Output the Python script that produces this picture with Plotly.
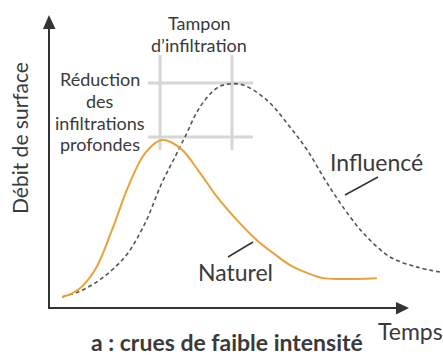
import plotly.graph_objects as go

# Hydrograph: surface discharge over time, natural vs influenced regime
time_naturel = [3.7, 8.1, 12.9, 17.7, 22.2, 27.0, 31.7, 36.8, 42.4, 47.2, 52.8,
                58.4, 62.9, 67.7, 72.5, 77.0, 81.7, 92.1]
debit_naturel = [3.8, 6.2, 13.1, 26.9, 41.7, 53.4, 57.9, 55.2, 46.6, 38.3, 30.3,
                 23.4, 19.0, 14.8, 12.1, 10.3, 10.0, 10.3]

time_influence = [3.7, 8.1, 12.9, 17.7, 22.2, 27.0, 31.7, 35.4, 38.2, 42.4, 47.2, 50.3,
                  54.5, 61.2, 67.7, 72.5, 78.1, 84.6, 89.3, 95.8, 103.4, 109.8]
debit_influence = [3.8, 5.5, 8.6, 13.1, 19.0, 29.3, 43.1, 52.1, 59.0, 69.3, 75.9, 77.2,
                   76.9, 71.7, 62.4, 54.5, 43.1, 31.4, 24.5, 17.6, 14.1, 12.4]

# Reference marks: peak times and peak discharges
peak_times = [31.2, 51.4]
peak_debits = [59.0, 77.6]

W, H = 443, 356
X0, Y0 = 49, 308          # axis origin in pixels
SX, SY = 3.56, 2.9        # pixels per data unit

x_range = [(0 - X0) / SX, (W - X0) / SX]
y_range = [(Y0 - H) / SY, (Y0 - 0) / SY]

TXT = "#3a3a3a"
FONT = "Lato"

fig = go.Figure()

# light grey reference cross-lines
grid_col = "#d6d6d6"
for t in peak_times:
    fig.add_shape(type="line", xref="x", yref="y", x0=t, x1=t, y0=54.5, y1=87.2,
                  line=dict(color=grid_col, width=3), layer="below")
for q in peak_debits:
    fig.add_shape(type="line", xref="x", yref="y", x0=27.8, x1=57.3, y0=q, y1=q,
                  line=dict(color=grid_col, width=3), layer="below")

fig.add_trace(go.Scatter(x=time_influence, y=debit_influence, mode="lines",
                         line=dict(color="#555555", width=1.6, dash="4px,3px", shape="spline"),
                         hoverinfo="skip"))
fig.add_trace(go.Scatter(x=time_naturel, y=debit_naturel, mode="lines",
                         line=dict(color="#E9A23B", width=2, shape="spline"),
                         hoverinfo="skip"))

# axes drawn as arrows (paper coords equal pixels since margins are 0)
def px(x):
    return x / W

def py(y):
    return 1 - y / H

axis_col = "#333333"
fig.add_shape(type="line", xref="paper", yref="paper", x0=px(49), y0=py(309), x1=px(49), y1=py(27),
              line=dict(color=axis_col, width=2))
fig.add_shape(type="line", xref="paper", yref="paper", x0=px(48), y0=py(308), x1=px(398), y1=py(308),
              line=dict(color=axis_col, width=2))
fig.add_shape(type="path", xref="paper", yref="paper",
              path=f"M {px(43)},{py(29)} L {px(49)},{py(15)} L {px(55.5)},{py(29)} Z",
              fillcolor=axis_col, line=dict(color=axis_col, width=0))
fig.add_shape(type="path", xref="paper", yref="paper",
              path=f"M {px(396)},{py(302)} L {px(409)},{py(308)} L {px(396)},{py(314.5)} Z",
              fillcolor=axis_col, line=dict(color=axis_col, width=0))

# leader lines for the curve labels
for (a, b, c, d) in [(345, 195, 378, 177), (228, 257, 253, 242)]:
    fig.add_shape(type="line", xref="paper", yref="paper", x0=px(a), y0=py(b), x1=px(c), y1=py(d),
                  line=dict(color=axis_col, width=1.5))

def label(text, x, y, size, angle=0, bold=False):
    fig.add_annotation(xref="paper", yref="paper", x=px(x), y=py(y), text=f"<b>{text}</b>" if bold else text,
                       showarrow=False, textangle=angle, xanchor="center", yanchor="middle",
                       font=dict(family=FONT, size=size, color=TXT))

label("Tampon", 199, 23, 18)
label("d’infiltration", 199, 45, 18)
label("Réduction", 100, 79, 18)
label("des", 100, 101, 18)
label("infiltrations", 100, 123, 18)
label("profondes", 100, 144, 18)
label("Influencé", 376, 162, 23)
label("Naturel", 235, 272, 23)
label("Temps", 410, 331, 23)
label("Débit de surface", 20, 138, 21, angle=-90)
label("a : crues de faible intensité", 227, 342, 23, bold=True)

fig.update_layout(
    width=W, height=H,
    margin=dict(l=0, r=0, t=0, b=0),
    paper_bgcolor="white", plot_bgcolor="white",
    showlegend=False,
    xaxis=dict(range=x_range, visible=False, fixedrange=True),
    yaxis=dict(range=y_range, visible=False, fixedrange=True),
)

fig.write_html("out.html")
